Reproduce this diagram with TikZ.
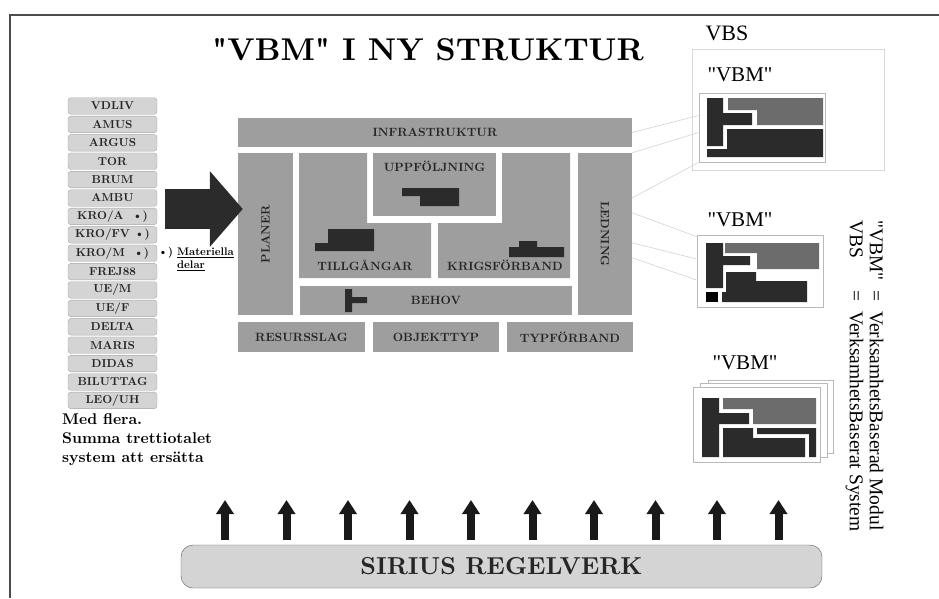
\documentclass[tikz,border=0pt]{standalone}
\usepackage{fontspec}
\newfontfamily\tms{Liberation Serif}
\newfontfamily\lmplain{lmroman10-regular.otf}[BoldFont=lmroman10-bold.otf]
\usetikzlibrary{arrows.meta}

\definecolor{blockgray}{HTML}{9E9E9E}
\definecolor{darkfill}{HTML}{2B2B2B}
\definecolor{midgray}{HTML}{6C6C6C}
\definecolor{listfill}{HTML}{D4D4D4}
\definecolor{inktext}{HTML}{262626}

\begin{document}
\begin{tikzpicture}[
  x=1pt, y=-1pt,
  blk/.style    ={fill=blockgray, inner sep=0pt, font=\lmplain\fontsize{12}{12}\bfseries, text=inktext},
  lbl/.style    ={inner sep=0pt, font=\lmplain\fontsize{12}{12}\bfseries, text=inktext},
  darkmark/.style={fill=darkfill},
  sysbox/.style ={draw=gray!70, fill=listfill, rounded corners=3pt, minimum width=89, minimum height=16.5,
                  inner sep=0pt, font=\lmplain\fontsize{11.5}{12}\bfseries, text=inktext},
  bigarr/.style ={draw=darkfill, line width=40pt, -{Triangle[length=33pt, width=74pt]}},
  uparr/.style  ={draw=black!90, line width=8pt, -{Triangle[length=14pt, width=17pt]}},
  panel/.style  ={draw=gray!55, fill=white, line width=0.8pt, inner sep=0pt},
  faint/.style  ={draw=gray!35, line width=0.6pt},
  vbmtxt/.style ={font=\tms\fontsize{21}{21}\selectfont, inner sep=0pt},
]
\useasboundingbox (0,0) rectangle (939,598);

% ---- frame and title ----
\draw[gray!60!black, line width=1.2pt] (10,598) -- (10,15) -- (939,15);
\node[inner sep=0pt, font=\lmplain\fontsize{31.5}{32}\bfseries] (title) at (428,50) {"VBM" I NY STRUKTUR};

% ---- systems to replace ----
\foreach \nm [count=\i] in {VDLIV, AMUS, ARGUS, TOR, BRUM, AMBU,
    KRO/A\ \ \textbullet), KRO/FV \textbullet), KRO/M\ \ \textbullet),
    FREJ88, UE/M, UE/F, DELTA, MARIS, DIDAS, BILUTTAG, LEO/UH}
  \node[sysbox] (sys\i) at (112.5, {106 + (\i-1)*18.4}) {\nm};

\node[inner sep=0pt, anchor=west, align=left, font=\lmplain\fontsize{11}{13}\bfseries] (note)
  at (158,259) {\textbullet) \underline{Materiella}\\\hphantom{\textbullet) }\underline{delar}};

\node[inner sep=0pt, anchor=north west, align=left, font=\lmplain\fontsize{15.5}{19}\bfseries] (many)
  at (62,413) {Med flera.\\Summa trettiotalet\\system att ersätta};

% ---- the structure block ----
\node[blk, minimum width=394, minimum height=29] (infra) at (435,132.5) {INFRASTRUKTUR};
\node[blk, minimum width=162, minimum height=55, rotate=90] (planer) at (265.5,234) {PLANER};
\node[blk, minimum width=162, minimum height=54, rotate=-90] (ledning) at (605,234) {LEDNING};

\fill[blockgray] (299,153) -- (367,153) -- (367,223) -- (431,223) -- (431,278) -- (299,278) -- cycle;
\fill[blockgray] (502,153) -- (570,153) -- (570,278) -- (438,278) -- (438,223) -- (502,223) -- cycle;
\node[blk, minimum width=123, minimum height=63] (uppf) at (434.5,184.5) {};
\node[lbl] (uppflbl) at (434.5,166) {UPPFÖLJNING};
\node[lbl] (tillg) at (365,265) {TILLGÅNGAR};
\node[lbl] (krigsf) at (505,265) {KRIGSFÖRBAND};
\node[blk, minimum width=272, minimum height=29] (behov) at (436,300.5) {BEHOV};

\node[blk, minimum width=127, minimum height=30] (resurs) at (301.5,337) {RESURSSLAG};
\node[blk, minimum width=126, minimum height=30] (objtyp) at (436,337) {OBJEKTTYP};
\node[blk, minimum width=126, minimum height=30] (typforb) at (570,337) {TYPFÖRBAND};

% dark marks
\fill[darkmark] (402,188) -- (459,188) -- (459,206) -- (420,206) -- (420,196) -- (402,196) -- cycle;
\fill[darkmark] (328,229) -- (374,229) -- (374,251) -- (315,251) -- (315,243) -- (328,243) -- cycle;
\fill[darkmark] (519,241) -- (537,241) -- (537,247) -- (564,247) -- (564,257) -- (509,257) -- (509,247) -- (519,247) -- cycle;
\fill[darkmark] (345,289) -- (352,289) -- (352,297) -- (367,297) -- (367,303) -- (352,303) -- (352,312) -- (345,312) -- cycle;

% big arrow list -> block
\coordinate (intail) at (165,209);
\draw[bigarr, shorten >=-5pt] (intail) -- (intail -| planer.north);

% ---- VBS side ----
\node[font=\tms\fontsize{22}{22}\selectfont, inner sep=0pt] (vbs) at (727,33) {VBS};
\draw[gray!30, line width=0.8pt] (692,49) rectangle (884,170);

\node[vbmtxt] (vbm1) at (740,75) {"VBM"};
\node[panel, minimum width=126, minimum height=69] (vbmA) at (762,127.5) {};
\begin{scope}[shift={(707,98)}]
  \fill[darkfill] (0,0) -- (16,0) -- (16,15) -- (45,15) -- (45,27) -- (16,27) -- (16,48) -- (0,48) -- cycle;
  \fill[midgray] (21,0) -- (116,0) -- (116,27) -- (50,27) -- (50,12) -- (21,12) -- cycle;
  \fill[darkfill] (20,31) -- (116,31) -- (116,59) -- (0,59) -- (0,51) -- (20,51) -- cycle;
\end{scope}

\node[vbmtxt] (vbm2) at (740,220) {"VBM"};
\node[panel, minimum width=126, minimum height=72] (vbmB) at (760,271) {};
\begin{scope}[shift={(706,243)}]
  \fill[darkfill] (0,0) -- (17,0) -- (17,13) -- (44,13) -- (44,22) -- (17,22) -- (17,45) -- (0,45) -- cycle;
  \fill[midgray] (19,0) -- (113,0) -- (113,26) -- (51,26) -- (51,10) -- (19,10) -- cycle;
  \fill[darkfill] (20,29) -- (50,29) -- (50,38) -- (101,38) -- (101,59) -- (16,59) -- (16,49) -- (20,49) -- cycle;
  \fill[black] (0,49) rectangle (12,59);
\end{scope}

\node[vbmtxt] (vbm3) at (745,363) {"VBM"};
\node[panel, minimum width=125, minimum height=73] (vbmC3) at (770.5,416.5) {};
\node[panel, minimum width=127, minimum height=74] (vbmC2) at (763.5,420) {};
\node[panel, minimum width=127, minimum height=75] (vbmC) at (756.5,424.5) {};
\begin{scope}[shift={(702,398)}]
  \fill[darkfill] (0,0) -- (17,0) -- (17,15) -- (47,15) -- (47,26) -- (17,26) -- (17,59) -- (0,59) -- cycle;
  \fill[midgray] (21,0) -- (114,0) -- (114,26) -- (51,26) -- (51,11) -- (21,11) -- cycle;
  \fill[darkfill] (21,30) -- (51,30) -- (51,40) -- (103,40) -- (103,59) -- (21,59) -- cycle;
  \fill[darkfill] (55,30) -- (114,30) -- (114,59) -- (107,59) -- (107,36) -- (55,36) -- cycle;
\end{scope}

% faint links block -> VBM
\draw[faint] (infra.east) -- ([yshift=12pt]vbmA.west);
\draw[faint] (ledning.north west) -- ([yshift=-5pt]vbmA.west);
\draw[faint] ([yshift=-45pt]ledning.north west) -- (vbmA.south west);
\draw[faint] ([yshift=-60pt]ledning.north west) -- ([yshift=-2pt]vbmB.north west);
\draw[faint] ([yshift=-90pt]ledning.north west) -- ([yshift=12pt]vbmB.west);
\draw[faint] ([yshift=-105pt]ledning.north west) -- ([yshift=-9pt]vbmB.west);

% ---- legend ----
\node[rotate=-90, inner sep=0pt, font=\tms\fontsize{19.5}{21}\selectfont] (legend) at (864,376)
  {\begin{tabular}{@{}l@{\ \ =\ \ }l@{}}"VBM" & VerksamhetsBaserad Modul\\[-1pt] VBS & VerksamhetsBaserat System\end{tabular}};

% ---- rule base ----
\node[draw=gray!70!black, fill=listfill, rounded corners=12pt, minimum width=641, minimum height=43,
      inner sep=0pt, font=\lmplain\fontsize{24.5}{25}\bfseries, text=inktext] (sirius) at (501.5,566.5) {SIRIUS REGELVERK};
\foreach \i in {0,...,9} {
  \coordinate (up\i) at ({225 + \i*61.5},500);
  \draw[uparr, shorten <=5pt] (up\i |- sirius.north) -- (up\i);
}

\end{tikzpicture}
\end{document}
